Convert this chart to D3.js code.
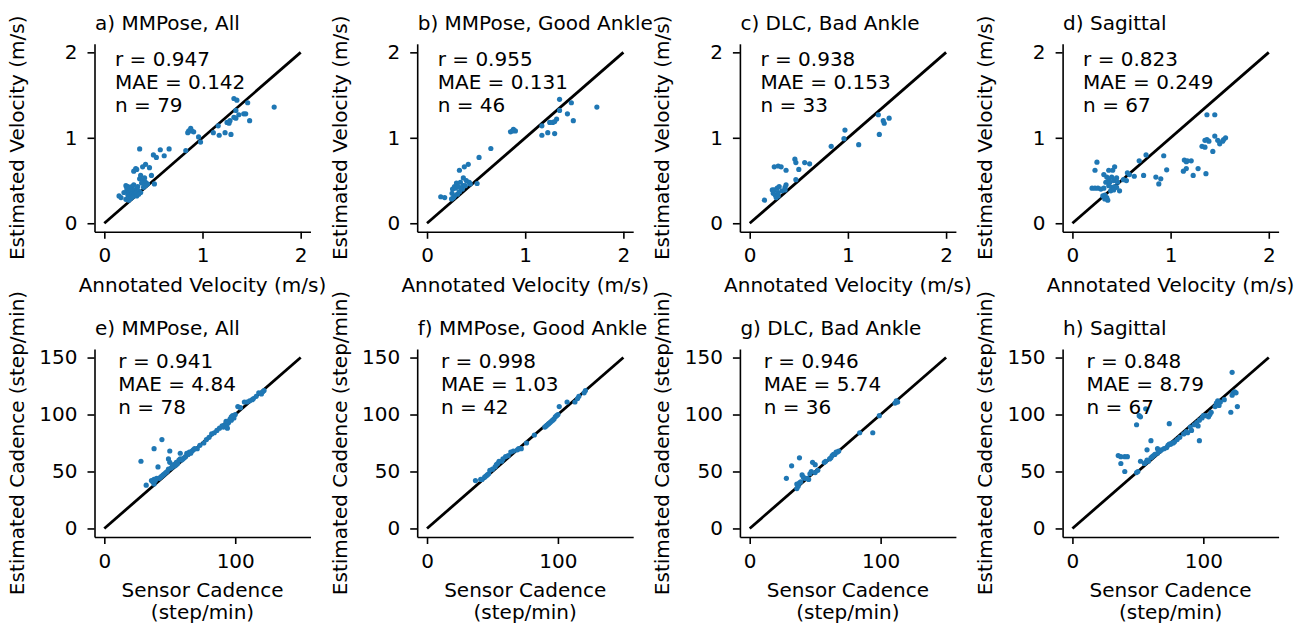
<!DOCTYPE html>
<html>

<head>
    <meta charset="UTF-8">
    <style>
        body { margin: 0; background: #fff; }
        text { font-family: "DejaVu Sans", sans-serif; }
    </style>
</head>

<body>
    <script src="https://d3js.org/d3.v7.min.js"></script>
    <div id="chart"></div>
    <script>
        // panel titles and stats
        const titles = ["a) MMPose, All", "b) MMPose, Good Ankle", "c) DLC, Bad Ankle", "d) Sagittal",
            "e) MMPose, All", "f) MMPose, Good Ankle", "g) DLC, Bad Ankle", "h) Sagittal"];
        const rVals = ["0.947", "0.955", "0.938", "0.823", "0.941", "0.998", "0.946", "0.848"];
        const maeVals = ["0.142", "0.131", "0.153", "0.249", "4.84", "1.03", "5.74", "8.79"];
        const nVals = [79, 46, 33, 67, 78, 42, 36, 67];

        // tick labels
        const velTicks = [0, 1, 2];
        const cadXTicks = [0, 100];
        const cadYTicks = [0, 50, 100, 150];

        // velocity panels: [annotated, estimated] (m/s)
        const velAll = [[1.32, 1.46], [1.35, 1.44], [1.46, 1.41], [1.73, 1.36], [1.34, 1.32], [1.42, 1.28], [1.44, 1.28], [1.37, 1.27],
        [1.32, 1.24], [1.34, 1.23], [1.48, 1.20], [1.25, 1.18], [1.28, 1.20], [1.27, 1.17], [1.16, 1.14], [1.11, 1.06], [1.17, 1.03],
        [1.23, 1.06], [1.29, 1.04], [0.88, 1.11], [0.86, 1.08], [0.89, 1.08], [0.91, 1.07], [0.85, 1.06], [0.96, 1.01], [0.98, 0.95],
        [0.83, 0.85], [0.36, 0.87], [0.57, 0.86], [0.66, 0.87], [0.50, 0.80], [0.53, 0.77], [0.61, 0.79], [0.42, 0.69], [0.39, 0.66],
        [0.46, 0.65], [0.48, 0.56], [0.32, 0.64], [0.30, 0.61], [0.33, 0.63], [0.37, 0.56], [0.36, 0.52], [0.39, 0.50], [0.42, 0.48],
        [0.44, 0.46], [0.51, 0.46], [0.15, 0.32], [0.17, 0.30], [0.22, 0.44], [0.24, 0.43], [0.26, 0.41], [0.28, 0.43], [0.30, 0.45],
        [0.23, 0.38], [0.25, 0.36], [0.27, 0.38], [0.29, 0.37], [0.31, 0.39], [0.33, 0.40], [0.35, 0.38], [0.37, 0.36], [0.24, 0.33],
        [0.26, 0.31], [0.28, 0.34], [0.30, 0.33], [0.32, 0.35], [0.22, 0.28], [0.25, 0.27], [0.27, 0.29], [0.29, 0.31], [0.33, 0.32],
        [0.35, 0.34], [0.40, 0.42], [0.42, 0.44], [0.23, 0.41], [0.20, 0.36], [0.34, 0.43], [0.38, 0.47], [0.41, 0.53]];

        const velGood = [[1.35, 1.45], [1.47, 1.41], [1.73, 1.36], [1.35, 1.32], [1.43, 1.28], [1.32, 1.22], [1.25, 1.18], [1.28, 1.18],
        [1.30, 1.19], [1.49, 1.20], [1.17, 1.14], [1.17, 1.03], [1.23, 1.06], [1.30, 1.05], [0.85, 1.07], [0.88, 1.10], [0.90, 1.08],
        [0.87, 1.08], [0.65, 0.875], [0.53, 0.77], [0.42, 0.69], [0.38, 0.66], [0.33, 0.62], [0.37, 0.53], [0.40, 0.50], [0.43, 0.48],
        [0.44, 0.46], [0.51, 0.465], [0.30, 0.47], [0.28, 0.43], [0.26, 0.40], [0.29, 0.41], [0.32, 0.43], [0.35, 0.41], [0.37, 0.44],
        [0.255, 0.35], [0.28, 0.32], [0.31, 0.34], [0.33, 0.37], [0.14, 0.31], [0.18, 0.30], [0.25, 0.285], [0.27, 0.30], [0.36, 0.40],
        [0.39, 0.44], [0.34, 0.48]];

        const velDlc = [[1.31, 1.27], [1.42, 1.23], [1.36, 1.20], [1.37, 1.17], [1.32, 1.04], [0.97, 1.09], [0.96, 0.99], [1.11, 0.92],
        [0.83, 0.90], [0.46, 0.75], [0.47, 0.71], [0.56, 0.71], [0.61, 0.695], [0.25, 0.66], [0.29, 0.67], [0.32, 0.66], [0.37, 0.62],
        [0.50, 0.63], [0.47, 0.51], [0.37, 0.45], [0.36, 0.42], [0.23, 0.39], [0.25, 0.39], [0.28, 0.41], [0.30, 0.43], [0.24, 0.35],
        [0.26, 0.33], [0.29, 0.36], [0.33, 0.38], [0.36, 0.39], [0.27, 0.30], [0.29, 0.32], [0.15, 0.27]];

        const velSag = [[1.37, 1.27], [1.45, 1.27], [1.45, 1.02], [1.37, 0.98], [1.39, 0.96], [1.35, 0.97], [1.56, 1.00], [1.54, 0.98],
        [1.53, 0.96], [1.50, 0.93], [1.48, 0.97], [1.32, 0.90], [1.35, 0.89], [1.43, 0.84], [1.14, 0.74], [1.17, 0.73], [1.21, 0.73],
        [1.16, 0.72], [1.13, 0.61], [1.16, 0.64], [1.28, 0.64], [1.23, 0.56], [1.36, 0.58], [0.93, 0.79], [0.96, 0.625], [0.85, 0.54],
        [0.90, 0.52], [0.88, 0.46], [0.75, 0.80], [0.68, 0.73], [0.725, 0.56], [0.25, 0.715], [0.23, 0.62], [0.32, 0.57], [0.37, 0.62],
        [0.41, 0.62], [0.43, 0.66], [0.56, 0.59], [0.58, 0.57], [0.63, 0.55], [0.55, 0.50], [0.52, 0.51], [0.20, 0.41], [0.23, 0.41],
        [0.26, 0.41], [0.29, 0.40], [0.32, 0.41], [0.35, 0.54], [0.37, 0.52], [0.40, 0.54], [0.34, 0.48], [0.38, 0.48], [0.42, 0.50],
        [0.45, 0.53], [0.46, 0.48], [0.43, 0.43], [0.40, 0.42], [0.37, 0.44], [0.39, 0.38], [0.42, 0.39], [0.45, 0.42], [0.48, 0.38],
        [0.33, 0.33], [0.31, 0.32], [0.35, 0.30], [0.36, 0.27], [0.33, 0.285]];

        // cadence panels: [sensor, estimated] (step/min)
        const cadAll = [[122, 121], [121, 120], [120, 118], [116, 116], [114, 114], [113, 113], [111, 112], [109, 111], [107, 111], [102, 107],
        [100, 100], [99, 97], [97, 95], [95, 93], [94, 92], [92, 91], [91, 89], [94, 88], [98, 99], [96, 96], [84, 84], [82, 83], [76, 75],
        [71, 70], [68, 69], [67, 68], [65, 67], [63, 66], [58, 66], [61, 62], [58, 61], [57, 60], [55, 58], [53, 56], [52, 54], [50, 68],
        [44, 78], [38, 70], [49, 61], [50, 58], [28, 59], [41, 54], [47, 49], [45, 47], [43, 45], [40, 44], [38, 43], [36, 42], [38, 39],
        [32, 38], [49, 52], [51, 53], [54, 55], [56, 57], [59, 60], [60, 61], [62, 63], [64, 65], [66, 66], [69, 70], [73, 73], [78, 78],
        [80, 80], [86, 86], [88, 88], [90, 90], [93, 94], [97, 98], [104, 106], [118, 119], [37, 41], [39, 42], [42, 44], [44, 46],
        [46, 48], [48, 50], [52, 55], [55, 56]];

        const cadGood = [[121, 121], [120, 119], [116, 116], [115, 114], [113, 111], [107, 111], [101, 107], [100, 100], [98, 98], [97, 96],
        [95, 94], [93, 92], [91, 90], [82, 82], [76, 75], [72, 70], [69, 69], [66, 68], [64, 67], [60, 63], [58, 61], [55, 59], [53, 56],
        [52, 54], [48, 51], [47, 48], [45, 46], [42, 43], [37, 42], [99, 99], [96, 95], [94, 93], [92, 91], [90, 89], [70, 70], [62, 64],
        [57, 59], [54, 57], [50, 52], [46, 47], [44, 45], [41, 43]];

        const cadDlc = [[113, 111], [111, 110], [99, 99], [84, 84], [94, 84], [68, 68], [66, 67], [65, 65], [63, 64], [62, 62], [58, 59],
        [38, 62], [32, 55], [48, 58], [50, 56], [47, 50], [50, 49], [40, 47], [41, 45], [44, 44], [45, 43], [28, 44], [36, 39], [37, 37],
        [36, 35], [112, 111], [67, 67], [64, 65], [61, 61], [57, 58], [52, 51], [46, 48], [42, 44], [38, 40], [39, 41], [112, 112]];

        const cadSag = [[122, 137], [123, 119], [124, 120], [122, 117], [125, 119], [126, 107], [121, 102], [116, 113], [111, 112], [113, 111],
        [110, 110], [112, 108], [109, 107], [105, 100], [106, 102], [104, 98], [102, 99], [99, 97], [97, 95], [95, 93], [96, 90], [91, 86],
        [88, 84], [82, 80], [80, 78], [78, 76], [77, 75], [75, 74], [97, 77], [74, 92], [56, 105], [52, 98], [51, 99], [49, 91], [60, 77],
        [65, 70], [57, 69], [35, 64], [37, 63], [40, 63], [42, 63], [37, 57], [52, 59], [40, 50], [49, 49], [50, 50], [56, 58], [57, 60],
        [58, 59], [60, 62], [61, 63], [62, 64], [63, 65], [65, 66], [67, 68], [68, 69], [70, 70], [72, 71], [73, 73], [74, 74], [76, 75],
        [85, 83], [87, 85], [90, 89], [93, 91], [100, 99], [55, 57]];

        const panelData = [velAll, velGood, velDlc, velSag, cadAll, cadGood, cadDlc, cadSag];

        // layout
        const W = 1314, H = 623;
        const colLeft = [94.5, 417.2, 739.9, 1062.6];
        const rowTop = [43.8, 349];
        const pw = 216, ph = 188;
        const font = 20;

        const svg = d3.select("#chart")
            .append("svg")
            .attr("width", W)
            .attr("height", H);

        panelData.forEach(function (pts, i) {
            const row = Math.floor(i / 4), col = i % 4;
            const left = colLeft[col], top = rowTop[row];
            const isVel = row == 0;
            const lim = isVel ? 2 : 150;
            const pad = lim * 0.05;

            const x = d3.scaleLinear().domain([-pad, lim + pad]).range([left, left + pw]);
            const y = d3.scaleLinear().domain([-pad, lim + pad]).range([top + ph, top]);

            // axes
            const gx = svg.append("g")
                .attr("transform", `translate(0, ${top + ph})`)
                .call(d3.axisBottom(x).tickValues(isVel ? velTicks : cadXTicks)
                    .tickFormat(d3.format("d"))
                    .tickSize(7).tickSizeOuter(0).tickPadding(9.5));
            const gy = svg.append("g")
                .attr("transform", `translate(${left}, 0)`)
                .call(d3.axisLeft(y).tickValues(isVel ? velTicks : cadYTicks)
                    .tickFormat(d3.format("d"))
                    .tickSize(7).tickSizeOuter(0).tickPadding(10));
            [gx, gy].forEach(function (g) {
                g.attr("font-size", font).attr("font-family", "DejaVu Sans");
                g.selectAll("path.domain").attr("stroke", "#000").attr("stroke-width", 1.6);
                g.selectAll(".tick line").attr("stroke", "#000").attr("stroke-width", 1.6);
                g.selectAll(".tick text").attr("fill", "#000");
            });

            // identity line
            svg.append("line")
                .attr("x1", x(0)).attr("y1", y(0))
                .attr("x2", x(lim)).attr("y2", y(lim))
                .attr("stroke", "#000")
                .attr("stroke-width", 2.8);

            // points
            svg.append("g")
                .selectAll("circle")
                .data(pts)
                .enter()
                .append("circle")
                .attr("cx", d => x(d[0]))
                .attr("cy", d => y(d[1]))
                .attr("r", 2.6)
                .attr("fill", "#1f77b4");

            // title
            svg.append("text")
                .attr("x", left + 0.5)
                .attr("y", top - 13.8)
                .attr("font-size", font)
                .text(titles[i]);

            // stats
            const sx = left + (isVel ? 20.5 : 23.8);
            const sy = top + (isVel ? 21.9 : 19.3);
            ["r = " + rVals[i], "MAE = " + maeVals[i], "n = " + nVals[i]].forEach(function (s, k) {
                svg.append("text")
                    .attr("x", sx)
                    .attr("y", sy + k * 23)
                    .attr("font-size", font)
                    .text(s);
            });

            // axis labels
            if (isVel) {
                svg.append("text")
                    .attr("x", left + pw / 2)
                    .attr("y", top + ph + 60)
                    .attr("text-anchor", "middle")
                    .attr("font-size", font)
                    .text("Annotated Velocity (m/s)");
            } else {
                svg.append("text")
                    .attr("x", left + pw / 2)
                    .attr("y", top + ph + 59.5)
                    .attr("text-anchor", "middle")
                    .attr("font-size", font)
                    .text("Sensor Cadence");
                svg.append("text")
                    .attr("x", left + pw / 2)
                    .attr("y", top + ph + 82)
                    .attr("text-anchor", "middle")
                    .attr("font-size", font)
                    .text("(step/min)");
            }
            svg.append("text")
                .attr("transform", `translate(${left - 70.5}, ${top + ph / 2}) rotate(-90)`)
                .attr("text-anchor", "middle")
                .attr("font-size", font)
                .text(isVel ? "Estimated Velocity (m/s)" : "Estimated Cadence (step/min)");
        });
    </script>
</body>

</html>
